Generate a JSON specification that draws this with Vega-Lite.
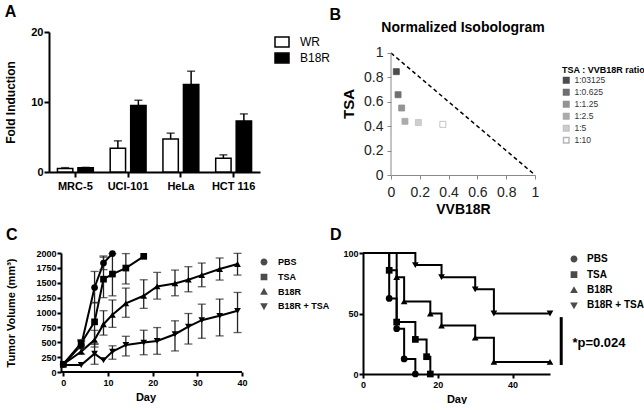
{
  "$schema": "https://vega.github.io/schema/vega-lite/v6.json",
  "background": "white",
  "padding": {"left": 4, "top": 4, "right": 0, "bottom": 0},
  "config": {
    "font": "Liberation Sans",
    "view": {"stroke": null},
    "axis": {"grid": false, "domainColor": "black", "tickColor": "black", "labelColor": "black", "titleColor": "black", "labelFontWeight": "bold", "titleFontWeight": "bold", "domainWidth": 2, "tickWidth": 2, "labelFlush": false, "labelOverlap": false},
    "title": {"color": "black", "fontWeight": "bold"},
    "legend": {"labelColor": "black", "titleColor": "black"}
  },
  "spacing": 11,
  "resolve": {"scale": {"fill": "independent", "stroke": "independent", "shape": "independent", "color": "independent"}},
  "vconcat": [
    {
      "spacing": -2,
      "resolve": {"scale": {"fill": "independent", "stroke": "independent", "shape": "independent", "color": "independent"}},
      "hconcat": [
        {
          "width": 211, "height": 140,
          "title": {"text": "A", "anchor": "start", "frame": "bounds", "fontSize": 16, "offset": 6},
          "data": {"values": [
            {"line": "MRC-5", "virus": "WR", "value": 0.5, "err": 0.62},
            {"line": "MRC-5", "virus": "B18R", "value": 0.6, "err": 0.66},
            {"line": "UCI-101", "virus": "WR", "value": 3.4, "err": 4.45},
            {"line": "UCI-101", "virus": "B18R", "value": 9.5, "err": 10.25},
            {"line": "HeLa", "virus": "WR", "value": 4.7, "err": 5.55},
            {"line": "HeLa", "virus": "B18R", "value": 12.5, "err": 14.4},
            {"line": "HCT 116", "virus": "WR", "value": 1.95, "err": 2.45},
            {"line": "HCT 116", "virus": "B18R", "value": 7.3, "err": 8.3}
          ]},
          "encoding": {
            "x": {"field": "line", "type": "nominal", "sort": ["MRC-5", "UCI-101", "HeLa", "HCT 116"], "scale": {"paddingInner": 0.32, "paddingOuter": 0.16},
              "axis": {"title": null, "labelAngle": 0, "labelFontSize": 11, "tickSize": 5, "labelPadding": 3}},
            "xOffset": {"field": "virus", "type": "nominal", "sort": ["WR", "B18R"], "scale": {"paddingInner": 0.25, "paddingOuter": 0}}
          },
          "layer": [
            {
              "mark": {"type": "bar", "stroke": "black", "strokeWidth": 1.5},
              "encoding": {
                "y": {"field": "value", "type": "quantitative", "title": "Fold Induction", "scale": {"domain": [0, 20]},
                  "axis": {"values": [0, 5, 10, 15, 20], "labelFontSize": 11, "titleFontSize": 12, "titlePadding": 13, "labelPadding": 1, "tickSize": 5}},
                "fill": {"field": "virus", "type": "nominal", "scale": {"domain": ["WR", "B18R"], "range": ["white", "black"]},
                  "legend": {"title": null, "orient": "none", "legendX": 225, "legendY": 2, "symbolType": "M-1,-0.7H1V0.7H-1Z", "symbolSize": 196, "labelFontSize": 12, "labelOffset": 10, "rowPadding": 0,
                    "encode": {"symbols": {"update": {"stroke": {"value": "black"}, "strokeWidth": {"value": 1.5}}}}}}
              }
            },
            {
              "mark": {"type": "rule", "color": "black", "strokeWidth": 1.5},
              "encoding": {"y": {"field": "value", "type": "quantitative", "title": "Fold Induction"}, "y2": {"field": "err"}}
            },
            {
              "mark": {"type": "tick", "color": "black", "thickness": 1.5, "size": 8, "orient": "horizontal"},
              "encoding": {"y": {"field": "err", "type": "quantitative", "title": "Fold Induction"}}
            }
          ]
        },
        {
          "title": {"text": "B", "anchor": "start", "frame": "bounds", "fontSize": 16, "dx": -12, "offset": -2},
          "resolve": {"scale": {"fill": "independent", "stroke": "independent"}},
          "vconcat": [
            {
              "width": 144, "height": 143,
              "title": {"text": "Normalized Isobologram", "fontSize": 14, "anchor": "middle", "offset": -2.5},
              "layer": [
                {
                  "data": {"values": [{"vvb": 0, "tsa": 1}, {"vvb": 1, "tsa": 0}]},
                  "mark": {"type": "line", "color": "black", "strokeWidth": 1.5, "strokeDash": [4, 3]},
                  "encoding": {
                    "x": {"field": "vvb", "type": "quantitative", "title": "VVB18R", "scale": {"domain": [0, 1], "nice": false},
                      "axis": {"values": [0, 0.2, 0.4, 0.6, 0.8, 1], "format": "~g", "labelOverlap": false, "labelFontWeight": "normal", "labelFontSize": 14, "labelColor": "#222222", "titleFontSize": 14, "domainColor": "#888888", "tickColor": "#888888", "domainWidth": 1, "tickWidth": 1, "tickSize": 4, "labelPadding": 6, "titlePadding": 3}},
                    "y": {"field": "tsa", "type": "quantitative", "title": "TSA", "scale": {"domain": [0, 1.172], "nice": false},
                      "axis": {"values": [0, 0.2, 0.4, 0.6, 0.8, 1], "format": "~g", "labelOverlap": false, "domain": false, "labelFontWeight": "normal", "labelFontSize": 14, "labelColor": "#222222", "titleFontSize": 15, "tickColor": "#888888", "tickWidth": 1, "tickSize": 4, "labelPadding": 4, "titlePadding": 7}}
                  }
                },
                {
                  "data": {"values": [{"axis": "TSA"}]},
                  "mark": {"type": "rule", "color": "#888888", "strokeWidth": 1},
                  "encoding": {
                    "x": {"datum": 0, "type": "quantitative", "title": "VVB18R", "scale": {"domain": [0, 1], "nice": false},
                      "axis": {"values": [0, 0.2, 0.4, 0.6, 0.8, 1], "format": "~g", "labelOverlap": false, "labelFontWeight": "normal", "labelFontSize": 14, "labelColor": "#222222", "titleFontSize": 14, "domainColor": "#888888", "tickColor": "#888888", "domainWidth": 1, "tickWidth": 1, "tickSize": 4, "labelPadding": 6, "titlePadding": 3}},
                    "y": {"datum": 0, "type": "quantitative", "title": "TSA", "scale": {"domain": [0, 1.172], "nice": false},
                      "axis": {"values": [0, 0.2, 0.4, 0.6, 0.8, 1], "format": "~g", "labelOverlap": false, "domain": false, "labelFontWeight": "normal", "labelFontSize": 14, "labelColor": "#222222", "titleFontSize": 15, "tickColor": "#888888", "tickWidth": 1, "tickSize": 4, "labelPadding": 4, "titlePadding": 7}},
                    "y2": {"datum": 1}
                  }
                },
                {
                  "data": {"values": [
                    {"ratio": "1:03125", "vvb": 0.037, "tsa": 0.847},
                    {"ratio": "1:0.625", "vvb": 0.049, "tsa": 0.658},
                    {"ratio": "1:1.25", "vvb": 0.074, "tsa": 0.549},
                    {"ratio": "1:2.5", "vvb": 0.097, "tsa": 0.44},
                    {"ratio": "1:5", "vvb": 0.19, "tsa": 0.43},
                    {"ratio": "1:10", "vvb": 0.36, "tsa": 0.415}
                  ]},
                  "mark": {"type": "point", "shape": "square", "filled": true, "size": 36, "strokeWidth": 0.8},
                  "encoding": {
                    "x": {"field": "vvb", "type": "quantitative", "title": "VVB18R", "scale": {"domain": [0, 1], "nice": false},
                      "axis": {"values": [0, 0.2, 0.4, 0.6, 0.8, 1], "format": "~g", "labelOverlap": false, "labelFontWeight": "normal", "labelFontSize": 14, "labelColor": "#222222", "titleFontSize": 14, "domainColor": "#888888", "tickColor": "#888888", "domainWidth": 1, "tickWidth": 1, "tickSize": 4, "labelPadding": 6, "titlePadding": 3}},
                    "y": {"field": "tsa", "type": "quantitative", "title": "TSA", "scale": {"domain": [0, 1.172], "nice": false},
                      "axis": {"values": [0, 0.2, 0.4, 0.6, 0.8, 1], "format": "~g", "labelOverlap": false, "domain": false, "labelFontWeight": "normal", "labelFontSize": 14, "labelColor": "#222222", "titleFontSize": 15, "tickColor": "#888888", "tickWidth": 1, "tickSize": 4, "labelPadding": 4, "titlePadding": 7}},
                    "fill": {"field": "ratio", "type": "nominal", "scale": {"domain": ["1:03125", "1:0.625", "1:1.25", "1:2.5", "1:5", "1:10"], "range": ["#000000", "#333333", "#666666", "#888888", "#bbbbbb", "#ffffff"]},
                      "legend": {"title": "TSA : VVB18R ratio", "orient": "none", "legendX": 171, "legendY": 34, "titleFontSize": 9, "titleFontWeight": "bold", "labelFontSize": 8.5, "labelColor": "#333333", "symbolSize": 30, "symbolType": "square", "rowPadding": 0, "titlePadding": 1,
                        "encode": {"symbols": {"update": {"stroke": {"value": "#999999"}, "strokeWidth": {"value": 0.8}}}}}},
                    "stroke": {"field": "ratio", "type": "nominal", "scale": {"domain": ["1:03125", "1:0.625", "1:1.25", "1:2.5", "1:5", "1:10"], "range": ["#000000", "#333333", "#666666", "#888888", "#aaaaaa", "#999999"]}, "legend": null}
                  }
                }
              ]
            }
          ]
        }
      ]
    },
    {
      "spacing": -1,
      "resolve": {"scale": {"fill": "independent", "stroke": "independent", "shape": "independent", "color": "independent"}},
      "hconcat": [
        {
          "width": 193, "height": 119,
          "title": {"text": "C", "anchor": "start", "frame": "bounds", "fontSize": 16, "offset": 6},
          "data": {"values": [
            {"series": "PBS", "day": 0, "vol": 130},
            {"series": "PBS", "day": 4, "vol": 450, "lo": 390, "hi": 520},
            {"series": "PBS", "day": 7, "vol": 1420, "lo": 1160, "hi": 1690},
            {"series": "PBS", "day": 9, "vol": 1830, "lo": 1720, "hi": 1950},
            {"series": "PBS", "day": 11, "vol": 1990},
            {"series": "TSA", "day": 0, "vol": 130},
            {"series": "TSA", "day": 4, "vol": 483, "lo": 400, "hi": 545},
            {"series": "TSA", "day": 7, "vol": 843, "lo": 470, "hi": 1170},
            {"series": "TSA", "day": 9, "vol": 1560, "lo": 1250, "hi": 1930},
            {"series": "TSA", "day": 11, "vol": 1646, "lo": 1280, "hi": 1990},
            {"series": "TSA", "day": 14, "vol": 1747, "lo": 1480, "hi": 1990},
            {"series": "TSA", "day": 18, "vol": 1944},
            {"series": "B18R", "day": 0, "vol": 130},
            {"series": "B18R", "day": 4, "vol": 343, "lo": 300, "hi": 400},
            {"series": "B18R", "day": 7, "vol": 540, "lo": 420, "hi": 700},
            {"series": "B18R", "day": 9, "vol": 803, "lo": 620, "hi": 1030},
            {"series": "B18R", "day": 11, "vol": 961, "lo": 750, "hi": 1210},
            {"series": "B18R", "day": 14, "vol": 1152, "lo": 920, "hi": 1410},
            {"series": "B18R", "day": 18, "vol": 1281, "lo": 1070, "hi": 1550},
            {"series": "B18R", "day": 21, "vol": 1438, "lo": 1225, "hi": 1674},
            {"series": "B18R", "day": 25, "vol": 1489, "lo": 1281, "hi": 1713},
            {"series": "B18R", "day": 28, "vol": 1551, "lo": 1348, "hi": 1770},
            {"series": "B18R", "day": 31, "vol": 1629, "lo": 1433, "hi": 1831},
            {"series": "B18R", "day": 35, "vol": 1730, "lo": 1545, "hi": 1916},
            {"series": "B18R", "day": 39, "vol": 1815, "lo": 1629, "hi": 1994},
            {"series": "B18R + TSA", "day": 0, "vol": 118},
            {"series": "B18R + TSA", "day": 4, "vol": 118},
            {"series": "B18R + TSA", "day": 7, "vol": 309, "lo": 130, "hi": 470},
            {"series": "B18R + TSA", "day": 9, "vol": 197},
            {"series": "B18R + TSA", "day": 11, "vol": 343, "lo": 215, "hi": 440},
            {"series": "B18R + TSA", "day": 14, "vol": 455, "lo": 270, "hi": 600},
            {"series": "B18R + TSA", "day": 18, "vol": 494, "lo": 290, "hi": 702},
            {"series": "B18R + TSA", "day": 21, "vol": 522, "lo": 298, "hi": 747},
            {"series": "B18R + TSA", "day": 25, "vol": 635, "lo": 354, "hi": 860},
            {"series": "B18R + TSA", "day": 28, "vol": 764, "lo": 470, "hi": 983},
            {"series": "B18R + TSA", "day": 31, "vol": 871, "lo": 567, "hi": 1140},
            {"series": "B18R + TSA", "day": 35, "vol": 944, "lo": 607, "hi": 1225},
            {"series": "B18R + TSA", "day": 39, "vol": 1028, "lo": 663, "hi": 1337}
          ]},
          "layer": [
            {
              "data": {"values": [{"part": "baseline"}]},
              "mark": {"type": "rule", "color": "black", "strokeWidth": 2},
              "encoding": {
                "x": {"datum": -0.5, "type": "quantitative", "title": "Day", "scale": {"domain": [-3.2, 40], "nice": false},
                  "axis": {"values": [0, 10, 20, 30, 40], "domain": false, "labelFontSize": 9, "titleFontSize": 11, "tickSize": 4, "labelPadding": 2, "titlePadding": 4}},
                "x2": {"datum": 40},
                "y": {"datum": 0, "type": "quantitative", "title": "Tumor Volume (mm³)", "scale": {"domain": [0, 2000], "nice": false},
                  "axis": {"values": [0, 250, 500, 750, 1000, 1250, 1500, 1750, 2000], "format": "d", "offset": -12, "labelFontSize": 9, "titleFontSize": 11, "tickSize": 4, "labelPadding": 1, "titlePadding": 19}}
              }
            },
            {
              "mark": {"type": "line", "color": "black", "strokeWidth": 2},
              "encoding": {
                "x": {"field": "day", "type": "quantitative", "title": "Day", "scale": {"domain": [-3.2, 40], "nice": false},
                  "axis": {"values": [0, 10, 20, 30, 40], "domain": false, "labelFontSize": 9, "titleFontSize": 11, "tickSize": 4, "labelPadding": 2, "titlePadding": 4}},
                "y": {"field": "vol", "type": "quantitative", "title": "Tumor Volume (mm³)", "scale": {"domain": [0, 2000], "nice": false},
                  "axis": {"values": [0, 250, 500, 750, 1000, 1250, 1500, 1750, 2000], "format": "d", "offset": -12, "labelFontSize": 9, "titleFontSize": 11, "tickSize": 4, "labelPadding": 1, "titlePadding": 19}},
                "detail": {"field": "series"},
                "order": {"field": "day", "type": "quantitative"}
              }
            },
            {
              "transform": [{"filter": "isValid(datum.lo)"}],
              "mark": {"type": "rule", "color": "#222222", "strokeWidth": 1.3},
              "encoding": {
                "x": {"field": "day", "type": "quantitative", "title": "Day", "scale": {"domain": [-3.2, 40], "nice": false},
                  "axis": {"values": [0, 10, 20, 30, 40], "domain": false, "labelFontSize": 9, "titleFontSize": 11, "tickSize": 4, "labelPadding": 2, "titlePadding": 4}},
                "y": {"field": "lo", "type": "quantitative", "title": "Tumor Volume (mm³)", "scale": {"domain": [0, 2000], "nice": false},
                  "axis": {"values": [0, 250, 500, 750, 1000, 1250, 1500, 1750, 2000], "format": "d", "offset": -12, "labelFontSize": 9, "titleFontSize": 11, "tickSize": 4, "labelPadding": 1, "titlePadding": 19}},
                "y2": {"field": "hi"}
              }
            },
            {
              "transform": [{"filter": "isValid(datum.lo)"}],
              "mark": {"type": "tick", "color": "#222222", "thickness": 1.3, "size": 8, "orient": "horizontal"},
              "encoding": {
                "x": {"field": "day", "type": "quantitative", "title": "Day", "scale": {"domain": [-3.2, 40], "nice": false},
                  "axis": {"values": [0, 10, 20, 30, 40], "domain": false, "labelFontSize": 9, "titleFontSize": 11, "tickSize": 4, "labelPadding": 2, "titlePadding": 4}},
                "y": {"field": "lo", "type": "quantitative", "title": "Tumor Volume (mm³)", "scale": {"domain": [0, 2000], "nice": false},
                  "axis": {"values": [0, 250, 500, 750, 1000, 1250, 1500, 1750, 2000], "format": "d", "offset": -12, "labelFontSize": 9, "titleFontSize": 11, "tickSize": 4, "labelPadding": 1, "titlePadding": 19}}
              }
            },
            {
              "transform": [{"filter": "isValid(datum.lo)"}],
              "mark": {"type": "tick", "color": "#222222", "thickness": 1.3, "size": 8, "orient": "horizontal"},
              "encoding": {
                "x": {"field": "day", "type": "quantitative", "title": "Day", "scale": {"domain": [-3.2, 40], "nice": false},
                  "axis": {"values": [0, 10, 20, 30, 40], "domain": false, "labelFontSize": 9, "titleFontSize": 11, "tickSize": 4, "labelPadding": 2, "titlePadding": 4}},
                "y": {"field": "hi", "type": "quantitative", "title": "Tumor Volume (mm³)", "scale": {"domain": [0, 2000], "nice": false},
                  "axis": {"values": [0, 250, 500, 750, 1000, 1250, 1500, 1750, 2000], "format": "d", "offset": -12, "labelFontSize": 9, "titleFontSize": 11, "tickSize": 4, "labelPadding": 1, "titlePadding": 19}}
              }
            },
            {
              "transform": [{"filter": "datum.series === 'PBS'"}],
              "mark": {"type": "point", "shape": "circle", "filled": true, "color": "black", "size": 45, "opacity": 1},
              "encoding": {
                "x": {"field": "day", "type": "quantitative", "title": "Day", "scale": {"domain": [-3.2, 40], "nice": false},
                  "axis": {"values": [0, 10, 20, 30, 40], "domain": false, "labelFontSize": 9, "titleFontSize": 11, "tickSize": 4, "labelPadding": 2, "titlePadding": 4}},
                "y": {"field": "vol", "type": "quantitative", "title": "Tumor Volume (mm³)", "scale": {"domain": [0, 2000], "nice": false},
                  "axis": {"values": [0, 250, 500, 750, 1000, 1250, 1500, 1750, 2000], "format": "d", "offset": -12, "labelFontSize": 9, "titleFontSize": 11, "tickSize": 4, "labelPadding": 1, "titlePadding": 19}}
              }
            },
            {
              "transform": [{"filter": "datum.series === 'TSA'"}],
              "mark": {"type": "point", "shape": "square", "filled": true, "color": "black", "size": 45, "opacity": 1},
              "encoding": {
                "x": {"field": "day", "type": "quantitative", "title": "Day", "scale": {"domain": [-3.2, 40], "nice": false},
                  "axis": {"values": [0, 10, 20, 30, 40], "domain": false, "labelFontSize": 9, "titleFontSize": 11, "tickSize": 4, "labelPadding": 2, "titlePadding": 4}},
                "y": {"field": "vol", "type": "quantitative", "title": "Tumor Volume (mm³)", "scale": {"domain": [0, 2000], "nice": false},
                  "axis": {"values": [0, 250, 500, 750, 1000, 1250, 1500, 1750, 2000], "format": "d", "offset": -12, "labelFontSize": 9, "titleFontSize": 11, "tickSize": 4, "labelPadding": 1, "titlePadding": 19}}
              }
            },
            {
              "transform": [{"filter": "datum.series === 'B18R'"}],
              "mark": {"type": "point", "shape": "triangle-up", "filled": true, "color": "black", "size": 45, "opacity": 1},
              "encoding": {
                "x": {"field": "day", "type": "quantitative", "title": "Day", "scale": {"domain": [-3.2, 40], "nice": false},
                  "axis": {"values": [0, 10, 20, 30, 40], "domain": false, "labelFontSize": 9, "titleFontSize": 11, "tickSize": 4, "labelPadding": 2, "titlePadding": 4}},
                "y": {"field": "vol", "type": "quantitative", "title": "Tumor Volume (mm³)", "scale": {"domain": [0, 2000], "nice": false},
                  "axis": {"values": [0, 250, 500, 750, 1000, 1250, 1500, 1750, 2000], "format": "d", "offset": -12, "labelFontSize": 9, "titleFontSize": 11, "tickSize": 4, "labelPadding": 1, "titlePadding": 19}}
              }
            },
            {
              "transform": [{"filter": "datum.series === 'B18R + TSA'"}],
              "mark": {"type": "point", "shape": "triangle-down", "filled": true, "color": "black", "size": 45, "opacity": 1},
              "encoding": {
                "x": {"field": "day", "type": "quantitative", "title": "Day", "scale": {"domain": [-3.2, 40], "nice": false},
                  "axis": {"values": [0, 10, 20, 30, 40], "domain": false, "labelFontSize": 9, "titleFontSize": 11, "tickSize": 4, "labelPadding": 2, "titlePadding": 4}},
                "y": {"field": "vol", "type": "quantitative", "title": "Tumor Volume (mm³)", "scale": {"domain": [0, 2000], "nice": false},
                  "axis": {"values": [0, 250, 500, 750, 1000, 1250, 1500, 1750, 2000], "format": "d", "offset": -12, "labelFontSize": 9, "titleFontSize": 11, "tickSize": 4, "labelPadding": 1, "titlePadding": 19}}
              }
            },
            {
              "transform": [{"filter": "false"}],
              "mark": {"type": "point", "filled": true, "color": "black"},
              "encoding": {
                "x": {"field": "day", "type": "quantitative", "title": "Day", "scale": {"domain": [-3.2, 40], "nice": false},
                  "axis": {"values": [0, 10, 20, 30, 40], "domain": false, "labelFontSize": 9, "titleFontSize": 11, "tickSize": 4, "labelPadding": 2, "titlePadding": 4}},
                "y": {"field": "vol", "type": "quantitative", "title": "Tumor Volume (mm³)", "scale": {"domain": [0, 2000], "nice": false},
                  "axis": {"values": [0, 250, 500, 750, 1000, 1250, 1500, 1750, 2000], "format": "d", "offset": -12, "labelFontSize": 9, "titleFontSize": 11, "tickSize": 4, "labelPadding": 1, "titlePadding": 19}},
                "shape": {"field": "series", "type": "nominal",
                  "scale": {"domain": ["PBS", "TSA", "B18R", "B18R + TSA"], "range": ["M-1.2,0H1.2M0.5,0A0.5,0.5,0,1,1,-0.5,0A0.5,0.5,0,1,1,0.5,0Z", "M-1.2,0H1.2M-0.48,-0.48H0.48V0.48H-0.48Z", "M-1.2,0H1.2M0,-0.6L0.55,0.38H-0.55Z", "M-1.2,0H1.2M0,0.6L0.55,-0.38H-0.55Z"]},
                  "legend": {"title": null, "orient": "none", "legendX": 207, "legendY": 1, "symbolSize": 196, "labelFontSize": 9, "labelFontWeight": "bold", "labelOffset": 6, "rowPadding": 0,
                    "encode": {"symbols": {"update": {"stroke": {"value": "black"}, "strokeWidth": {"value": 2}, "fill": {"value": "black"}, "opacity": {"value": 1}}}}}}
              }
            }
          ]
        },
        {
          "width": 187, "height": 121,
          "title": {"text": "D", "anchor": "start", "frame": "bounds", "fontSize": 16, "offset": 6, "dx": -13},
          "layer": [
            {
              "data": {"name": "surv"},
              "mark": {"type": "line", "color": "black", "strokeWidth": 2, "interpolate": "step-after"},
              "encoding": {
                "x": {"field": "day", "type": "quantitative", "title": "Day", "scale": {"domain": [0, 50], "nice": false},
                  "axis": {"values": [0, 20, 40], "labelFontSize": 9, "titleFontSize": 11, "tickSize": 4, "labelPadding": 2, "titlePadding": 4}},
                "y": {"field": "pct", "type": "quantitative", "title": null, "scale": {"domain": [0, 100], "nice": false},
                  "axis": {"values": [0, 50, 100], "labelFontSize": 9, "tickSize": 4, "labelPadding": 1}},
                "detail": {"field": "series"},
                "order": {"field": "day", "type": "quantitative"}
              }
            },
            {
              "data": {"name": "surv"},
              "transform": [{"filter": "datum.pt && datum.series === 'PBS'"}],
              "mark": {"type": "point", "shape": "circle", "filled": true, "color": "black", "size": 45, "opacity": 1},
              "encoding": {"x": {"field": "day", "type": "quantitative", "title": "Day"}, "y": {"field": "pct", "type": "quantitative", "title": null}}
            },
            {
              "data": {"name": "surv"},
              "transform": [{"filter": "datum.pt && datum.series === 'TSA'"}],
              "mark": {"type": "point", "shape": "square", "filled": true, "color": "black", "size": 45, "opacity": 1},
              "encoding": {"x": {"field": "day", "type": "quantitative", "title": "Day"}, "y": {"field": "pct", "type": "quantitative", "title": null}}
            },
            {
              "data": {"name": "surv"},
              "transform": [{"filter": "datum.pt && datum.series === 'B18R'"}],
              "mark": {"type": "point", "shape": "triangle-up", "filled": true, "color": "black", "size": 45, "opacity": 1},
              "encoding": {"x": {"field": "day", "type": "quantitative", "title": "Day"}, "y": {"field": "pct", "type": "quantitative", "title": null}}
            },
            {
              "data": {"name": "surv"},
              "transform": [{"filter": "datum.pt && datum.series === 'B18R + TSA'"}],
              "mark": {"type": "point", "shape": "triangle-down", "filled": true, "color": "black", "size": 45, "opacity": 1},
              "encoding": {"x": {"field": "day", "type": "quantitative", "title": "Day"}, "y": {"field": "pct", "type": "quantitative", "title": null}}
            },
            {
              "data": {"name": "surv"},
              "transform": [{"filter": "false"}],
              "mark": {"type": "point", "filled": true, "color": "black"},
              "encoding": {
                "x": {"field": "day", "type": "quantitative", "title": "Day"},
                "y": {"field": "pct", "type": "quantitative", "title": null},
                "shape": {"field": "series", "type": "nominal",
                  "scale": {"domain": ["PBS", "TSA", "B18R", "B18R + TSA"], "range": ["M-1.2,0H1.2M0.5,0A0.5,0.5,0,1,1,-0.5,0A0.5,0.5,0,1,1,0.5,0Z", "M-1.2,0H1.2M-0.48,-0.48H0.48V0.48H-0.48Z", "M-1.2,0H1.2M0,-0.6L0.55,0.38H-0.55Z", "M-1.2,0H1.2M0,0.6L0.55,-0.38H-0.55Z"]},
                  "legend": {"title": null, "orient": "none", "legendX": 203, "legendY": -2, "symbolSize": 196, "labelFontSize": 10, "labelFontWeight": "bold", "labelOffset": 5, "rowPadding": 0.7,
                    "encode": {"symbols": {"update": {"stroke": {"value": "black"}, "strokeWidth": {"value": 2}, "fill": {"value": "black"}, "opacity": {"value": 1}}}}}}
              }
            },
            {
              "data": {"values": [{"note": "*p=0.024"}]},
              "mark": {"type": "rule", "color": "black", "strokeWidth": 3},
              "encoding": {"x": {"datum": 53, "type": "quantitative"}, "y": {"datum": 7.4, "type": "quantitative"}, "y2": {"datum": 47}}
            },
            {
              "data": {"values": [{"note": "*p=0.024"}]},
              "mark": {"type": "text", "align": "left", "baseline": "middle", "fontSize": 13, "fontWeight": "bold", "color": "black"},
              "encoding": {"x": {"datum": 56, "type": "quantitative"}, "y": {"datum": 26, "type": "quantitative"}, "text": {"field": "note"}}
            }
          ]
        }
      ]
    }
  ],
  "datasets": {
    "surv": [
      {"series": "PBS", "day": 0, "pct": 100, "pt": false},
      {"series": "PBS", "day": 7, "pct": 62.5, "pt": true},
      {"series": "PBS", "day": 9, "pct": 37.5, "pt": true},
      {"series": "PBS", "day": 11, "pct": 12.5, "pt": true},
      {"series": "PBS", "day": 14, "pct": 0, "pt": true},
      {"series": "TSA", "day": 0, "pct": 100, "pt": false},
      {"series": "TSA", "day": 7, "pct": 85.7, "pt": true},
      {"series": "TSA", "day": 9, "pct": 42.9, "pt": true},
      {"series": "TSA", "day": 14, "pct": 28.6, "pt": true},
      {"series": "TSA", "day": 17, "pct": 14.3, "pt": true},
      {"series": "TSA", "day": 18, "pct": 0, "pt": true},
      {"series": "B18R", "day": 0, "pct": 100, "pt": false},
      {"series": "B18R", "day": 9, "pct": 80, "pt": true},
      {"series": "B18R", "day": 11, "pct": 60, "pt": true},
      {"series": "B18R", "day": 18, "pct": 50, "pt": true},
      {"series": "B18R", "day": 21, "pct": 40, "pt": true},
      {"series": "B18R", "day": 30, "pct": 30, "pt": true},
      {"series": "B18R", "day": 35, "pct": 10, "pt": true},
      {"series": "B18R", "day": 50, "pct": 10, "pt": true},
      {"series": "B18R + TSA", "day": 0, "pct": 100, "pt": false},
      {"series": "B18R + TSA", "day": 14, "pct": 90, "pt": true},
      {"series": "B18R + TSA", "day": 21, "pct": 80, "pt": true},
      {"series": "B18R + TSA", "day": 30, "pct": 70, "pt": true},
      {"series": "B18R + TSA", "day": 35, "pct": 50, "pt": true},
      {"series": "B18R + TSA", "day": 50, "pct": 50, "pt": true}
    ]
  }
}
